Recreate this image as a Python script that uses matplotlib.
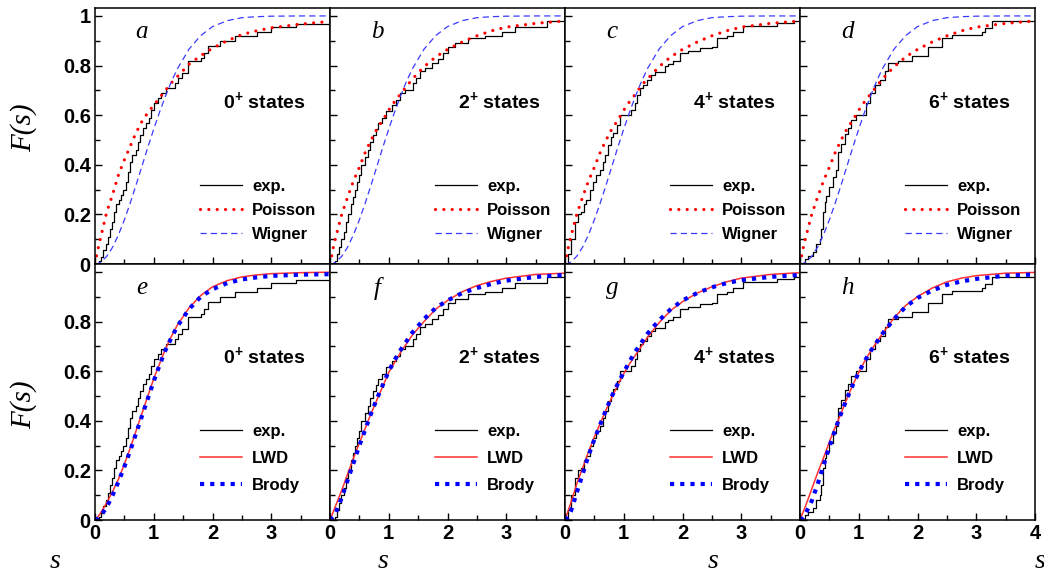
import numpy as np
import matplotlib
matplotlib.use('Agg')
import matplotlib.pyplot as plt
from matplotlib.ticker import MultipleLocator, FixedLocator

plt.rcParams['font.family'] = ['Liberation Sans', 'DejaVu Sans']
plt.rcParams['mathtext.fontset'] = 'custom'
plt.rcParams['mathtext.rm'] = 'Liberation Sans:bold'
plt.rcParams['mathtext.bf'] = 'Liberation Sans:bold'

# ---- data ----
states = ['0', '2', '4', '6']
top_letters = ['a', 'b', 'c', 'd']
bot_letters = ['e', 'f', 'g', 'h']

# experimental staircases (s at which step occurs, F after step)
exp_s = [
    [0.00, 0.06, 0.10, 0.14, 0.19, 0.22, 0.26, 0.29, 0.33, 0.36, 0.40, 0.44, 0.47, 0.53, 0.57,
     0.60, 0.63, 0.70, 0.73, 0.77, 0.82, 0.87, 0.92, 0.96, 1.01, 1.07, 1.12, 1.20, 1.36, 1.42,
     1.48, 1.58, 1.80, 1.86, 1.93, 2.13, 2.38, 2.75, 3.00, 3.42, 4.00],
    [0.00, 0.08, 0.12, 0.16, 0.19, 0.23, 0.27, 0.31, 0.35, 0.39, 0.42, 0.46, 0.50, 0.53, 0.59,
     0.64, 0.68, 0.73, 0.78, 0.82, 0.88, 0.96, 1.05, 1.13, 1.19, 1.27, 1.41, 1.46, 1.53, 1.61,
     1.73, 1.84, 1.93, 2.01, 2.12, 2.35, 2.64, 2.92, 3.15, 3.69, 4.00],
    [0.00, 0.05, 0.10, 0.17, 0.22, 0.28, 0.32, 0.36, 0.42, 0.48, 0.53, 0.59, 0.64, 0.68, 0.73,
     0.78, 0.82, 0.88, 0.93, 1.13, 1.19, 1.23, 1.27, 1.33, 1.39, 1.47, 1.53, 1.70, 1.76, 1.84,
     1.95, 2.10, 2.30, 2.50, 2.58, 2.75, 2.86, 3.03, 3.60, 3.89, 4.00],
    [0.00, 0.08, 0.14, 0.22, 0.28, 0.335, 0.36, 0.39, 0.42, 0.45, 0.50, 0.56, 0.62, 0.65, 0.70,
     0.76, 0.82, 0.875, 0.96, 1.13, 1.19, 1.27, 1.36, 1.44, 1.50, 1.67, 1.90, 2.18, 2.41, 2.58,
     3.09, 3.15, 3.26, 4.00],
]
exp_F = [
    [0.000, 0.014, 0.030, 0.055, 0.080, 0.110, 0.140, 0.170, 0.210, 0.240, 0.260, 0.280, 0.300,
     0.330, 0.370, 0.410, 0.440, 0.460, 0.490, 0.520, 0.550, 0.570, 0.590, 0.620, 0.650, 0.670,
     0.690, 0.710, 0.730, 0.750, 0.770, 0.820, 0.830, 0.850, 0.880, 0.900, 0.920, 0.935, 0.955,
     0.968, 0.968],
    [0.000, 0.014, 0.040, 0.070, 0.100, 0.130, 0.170, 0.200, 0.240, 0.270, 0.300, 0.330, 0.360,
     0.400, 0.430, 0.460, 0.490, 0.520, 0.545, 0.570, 0.590, 0.615, 0.640, 0.660, 0.690, 0.700,
     0.730, 0.750, 0.780, 0.790, 0.810, 0.825, 0.850, 0.875, 0.890, 0.910, 0.920, 0.935, 0.955,
     0.978, 0.978],
    [0.000, 0.040, 0.100, 0.170, 0.200, 0.210, 0.240, 0.260, 0.300, 0.330, 0.360, 0.380, 0.410,
     0.440, 0.480, 0.510, 0.530, 0.560, 0.600, 0.620, 0.650, 0.680, 0.710, 0.720, 0.740, 0.760,
     0.775, 0.800, 0.805, 0.820, 0.850, 0.860, 0.870, 0.875, 0.910, 0.920, 0.935, 0.960, 0.970,
     0.978, 0.978],
    [0.000, 0.020, 0.034, 0.047, 0.080, 0.100, 0.140, 0.210, 0.250, 0.275, 0.310, 0.350, 0.380,
     0.450, 0.485, 0.525, 0.550, 0.580, 0.600, 0.650, 0.690, 0.720, 0.740, 0.780, 0.810, 0.820,
     0.840, 0.875, 0.910, 0.925, 0.935, 0.950, 0.980, 0.980],
]

# smooth curves sampled on this grid
s_grid = [0.0, 0.05, 0.1, 0.2, 0.3, 0.4, 0.5, 0.6, 0.7, 0.8, 0.9, 1.0, 1.1, 1.2, 1.3, 1.4,
          1.6, 1.8, 2.0, 2.25, 2.5, 2.75, 3.0, 3.5, 4.0]

poisson_F = [
    [0.0, 0.06, 0.11, 0.21, 0.28, 0.36, 0.42, 0.475, 0.53, 0.575, 0.61, 0.64, 0.67, 0.70, 0.73,
     0.755, 0.805, 0.84, 0.87, 0.90, 0.925, 0.94, 0.952, 0.967, 0.978],
    [0.0, 0.06, 0.11, 0.20, 0.27, 0.335, 0.39, 0.45, 0.50, 0.545, 0.58, 0.62, 0.655, 0.685, 0.715,
     0.745, 0.795, 0.835, 0.865, 0.895, 0.92, 0.94, 0.955, 0.97, 0.98],
    [0.0, 0.06, 0.11, 0.20, 0.27, 0.335, 0.39, 0.45, 0.50, 0.545, 0.58, 0.62, 0.655, 0.685, 0.72,
     0.745, 0.795, 0.835, 0.865, 0.895, 0.92, 0.94, 0.955, 0.97, 0.98],
    [0.0, 0.06, 0.11, 0.20, 0.27, 0.335, 0.39, 0.45, 0.50, 0.545, 0.58, 0.62, 0.655, 0.685, 0.715,
     0.745, 0.795, 0.835, 0.865, 0.895, 0.92, 0.94, 0.955, 0.97, 0.98],
]
wigner_F = [0.0, 0.002, 0.008, 0.031, 0.068, 0.118, 0.178, 0.246, 0.319, 0.395, 0.471, 0.544,
            0.613, 0.677, 0.735, 0.786, 0.866, 0.921, 0.957, 0.981, 0.993, 0.997, 0.999, 1.0, 1.0]

lwd_F = [
    [0.0, 0.013, 0.03, 0.07, 0.115, 0.165, 0.225, 0.29, 0.36, 0.43, 0.50, 0.57, 0.63, 0.69, 0.74,
     0.785, 0.855, 0.905, 0.94, 0.965, 0.98, 0.988, 0.993, 0.997, 0.999],
    [0.0, 0.03, 0.06, 0.12, 0.185, 0.25, 0.31, 0.37, 0.43, 0.485, 0.54, 0.595, 0.635, 0.675, 0.71,
     0.745, 0.80, 0.85, 0.885, 0.92, 0.945, 0.962, 0.975, 0.99, 0.995],
    [0.0, 0.035, 0.07, 0.145, 0.21, 0.275, 0.335, 0.39, 0.445, 0.495, 0.545, 0.59, 0.63, 0.665,
     0.70, 0.735, 0.795, 0.845, 0.88, 0.915, 0.94, 0.96, 0.975, 0.99, 0.997],
    [0.0, 0.03, 0.06, 0.125, 0.19, 0.25, 0.315, 0.375, 0.43, 0.49, 0.545, 0.595, 0.64, 0.68,
     0.715, 0.75, 0.815, 0.865, 0.90, 0.935, 0.96, 0.975, 0.985, 0.995, 0.998],
]
brody_F = [
    [0.0, 0.006, 0.017, 0.052, 0.10, 0.155, 0.215, 0.28, 0.35, 0.42, 0.49, 0.56, 0.625, 0.685,
     0.735, 0.78, 0.85, 0.90, 0.93, 0.955, 0.97, 0.978, 0.984, 0.989, 0.991],
    [0.0, 0.012, 0.03, 0.09, 0.16, 0.23, 0.30, 0.365, 0.43, 0.49, 0.545, 0.60, 0.645, 0.685,
     0.72, 0.755, 0.81, 0.855, 0.885, 0.915, 0.935, 0.952, 0.965, 0.98, 0.988],
    [0.0, 0.012, 0.035, 0.11, 0.185, 0.26, 0.325, 0.385, 0.445, 0.50, 0.55, 0.595, 0.64, 0.68,
     0.715, 0.75, 0.805, 0.85, 0.885, 0.915, 0.938, 0.955, 0.967, 0.98, 0.988],
    [0.0, 0.01, 0.028, 0.077, 0.144, 0.22, 0.295, 0.365, 0.43, 0.49, 0.545, 0.595, 0.64, 0.68,
     0.715, 0.75, 0.81, 0.86, 0.895, 0.925, 0.948, 0.962, 0.972, 0.985, 0.99],
]

yticks = [0, 0.2, 0.4, 0.6, 0.8, 1.0]
ylabels_top = ['0', '0.2', '0.4', '0.6', '0.8', '1']
ylabels_bot = ['0', '0.2', '0.4', '0.6', '0.8', '']
xticks = [0, 1, 2, 3, 4]

# ---- styles ----
exp_kw = dict(color='black', lw=0.9)
poi_kw = dict(color='#ff0000', lw=2.3, linestyle=(0, (0.01, 2.6)), dash_capstyle='round')
wig_kw = dict(color='#3a3aff', lw=0.9, linestyle=(0, (5.0, 3.2)))
lwd_kw = dict(color='#ff3030', lw=1.1)
bro_kw = dict(color='#0000ff', lw=3.0, linestyle=(0, (1.0, 1.45)), dash_capstyle='butt')

W, H = 1044, 575
fig = plt.figure(figsize=(W / 100, H / 100), dpi=100)

left_px, pan_w = 95, 235
rows = [(8, 264), (264, 520)]

tick_fs = 14.5
ylim = (0, 1.032)

for r, (ytop, ybot) in enumerate(rows):
    for c in range(4):
        x0 = (left_px + c * pan_w) / W
        ax = fig.add_axes([x0, (H - ybot) / H, pan_w / W, (ybot - ytop) / H])
        ax.set_xlim(0, 4)
        ax.set_ylim(*ylim)
        for sp in ax.spines.values():
            sp.set_linewidth(1.1)
        ax.xaxis.set_major_locator(FixedLocator(xticks))
        ax.xaxis.set_minor_locator(MultipleLocator(0.5))
        ax.yaxis.set_major_locator(FixedLocator(yticks))
        ax.yaxis.set_minor_locator(MultipleLocator(0.1))
        ax.tick_params(which='both', direction='in', top=False, right=False, width=1.0)
        ax.tick_params(which='major', length=5)
        ax.tick_params(which='minor', length=3.5)
        ax.tick_params(labelsize=tick_fs, pad=3)

        if c > 0:
            ax.set_yticklabels([])
        elif r == 1:
            ax.set_yticklabels(ylabels_bot, fontweight='bold')
        else:
            ax.set_yticklabels(ylabels_top, fontweight='bold')
        if r == 0:
            ax.set_xticklabels([])
        else:
            labs = ['0', '1', '2', '3', '4' if c == 3 else '']
            ax.set_xticklabels(labs, fontweight='bold')

        ax.step(exp_s[c], exp_F[c], where='post', label='exp.', **exp_kw)
        if r == 0:
            ax.plot(s_grid, poisson_F[c], label='Poisson', **poi_kw)
            ax.plot(s_grid, wigner_F, label='Wigner', **wig_kw)
            letter = top_letters[c]
            spacing = 0.54
            anchor = (0.385, 0.027)
        else:
            ax.plot(s_grid, lwd_F[c], label='LWD', **lwd_kw)
            ax.plot(s_grid, brody_F[c], label='Brody', **bro_kw)
            letter = bot_letters[c]
            spacing = 0.71
            anchor = (0.385, 0.047)

        ax.legend(loc='lower left', bbox_to_anchor=anchor, frameon=False,
                  handlelength=2.5, handletextpad=0.6, labelspacing=spacing,
                  prop=dict(family='Liberation Sans', weight='bold', size=12))

        ax.text(0.2, 0.905, letter, transform=ax.transAxes, ha='center', va='center',
                family='Liberation Serif', style='italic', fontsize=18)
        ax.text(0.72, 0.635 if r == 0 else 0.64, r'$%s^{+}$ states' % states[c],
                transform=ax.transAxes, ha='center', va='center',
                fontweight='bold', fontsize=14)

# axis titles
for yc in (128, 405):
    fig.text(24 / W, 1 - yc / H, 'F(s)', rotation=90, ha='center', va='center',
             family='Liberation Serif', style='italic', fontsize=21)
for xc in (55, 383, 713, 1040):
    fig.text(xc / W, 1 - 561 / H, 's', ha='center', va='center',
             family='Liberation Serif', style='italic', fontsize=20)

fig.savefig('out.png', dpi=100)
